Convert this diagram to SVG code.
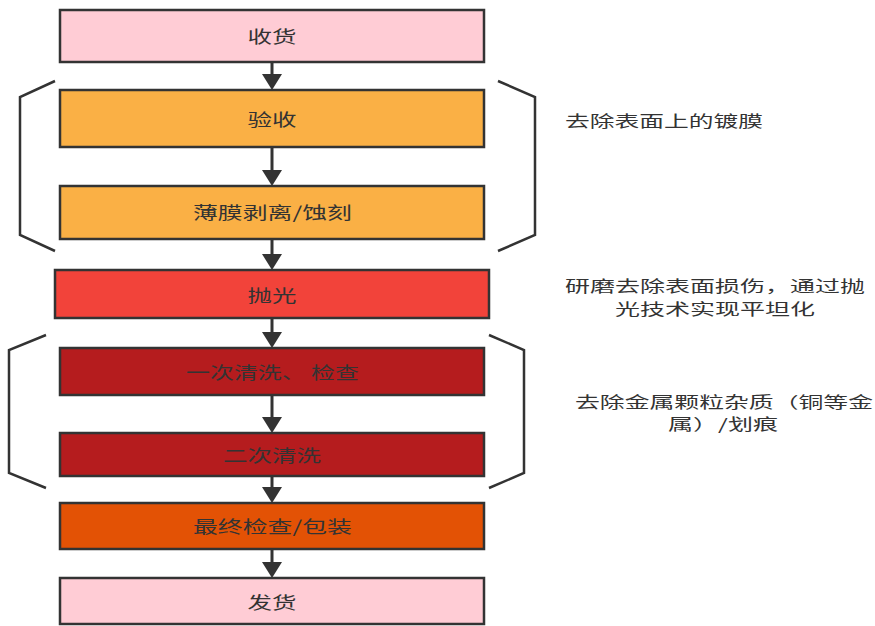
<svg xmlns="http://www.w3.org/2000/svg" width="875" height="626" viewBox="0 0 875 626">
<style>
.box{stroke:#333;stroke-width:2.5}
.t{font-family:"Noto Sans CJK SC","Liberation Sans",sans-serif;font-size:17px;fill:#333}
.n{font-family:"Noto Sans CJK SC","Liberation Sans",sans-serif;font-size:15.5px;fill:#333}
.pink{fill:#FFCCD5}
.orange{fill:#FAB045}
.red{fill:#F2433A}
.dred{fill:#B51C1E}
.ored{fill:#E35205}
.conn{stroke:#333;stroke-width:3;fill:none}
.br{stroke:#333;stroke-width:2.5;fill:none}
</style>
<defs>
<marker id="ah" viewBox="0 0 16 20" refX="8" refY="10" markerWidth="16" markerHeight="20" markerUnits="userSpaceOnUse" orient="auto">
<path d="M0,0 L16,10 L0,20 z" fill="#333"/>
</marker>
</defs>
<rect width="875" height="626" fill="#fff"/>
<g id="connectors">
<path class="conn" d="M272,62 V82" marker-end="url(#ah)"/>
<path class="conn" d="M272,147 V178" marker-end="url(#ah)"/>
<path class="conn" d="M272,239 V262" marker-end="url(#ah)"/>
<path class="conn" d="M272,318 V340" marker-end="url(#ah)"/>
<path class="conn" d="M272,395 V425" marker-end="url(#ah)"/>
<path class="conn" d="M272,476 V495" marker-end="url(#ah)"/>
<path class="conn" d="M272,549 V570" marker-end="url(#ah)"/>
</g>
<g id="brackets">
<path class="br" d="M55,81 L20,97 V235 L55,251"/>
<path class="br" d="M498,81 L535,97 V235 L498,251"/>
<path class="br" d="M46,335 L9,350 V473 L46,488"/>
<path class="br" d="M489,335 L524,350 V473 L489,488"/>
</g>
<g id="n1"><rect class="box pink" x="60" y="10" width="424" height="52"/><text class="t" x="247.5" y="43" textLength="49" lengthAdjust="spacingAndGlyphs">收货</text></g>
<g id="n2"><rect class="box orange" x="60" y="90" width="424" height="57"/><text class="t" x="247.5" y="126" textLength="49" lengthAdjust="spacingAndGlyphs">验收</text></g>
<g id="n3"><rect class="box orange" x="60" y="186" width="424" height="53"/><text class="t" x="193" y="219" textLength="159" lengthAdjust="spacingAndGlyphs">薄膜剥离/蚀刻</text></g>
<g id="n4"><rect class="box red" x="55" y="270" width="434" height="48"/><text class="t" x="247.5" y="302" textLength="49" lengthAdjust="spacingAndGlyphs">抛光</text></g>
<g id="n5"><rect class="box dred" x="60" y="348" width="424" height="47"/><text class="t" x="186" y="379" textLength="173" lengthAdjust="spacingAndGlyphs">一次清洗、 检查</text></g>
<g id="n6"><rect class="box dred" x="60" y="433" width="424" height="43"/><text class="t" x="223" y="462" textLength="98" lengthAdjust="spacingAndGlyphs">二次清洗</text></g>
<g id="n7"><rect class="box ored" x="60" y="503" width="424" height="46"/><text class="t" x="193" y="533" textLength="159" lengthAdjust="spacingAndGlyphs">最终检查/包装</text></g>
<g id="n8"><rect class="box pink" x="60" y="578" width="424" height="46"/><text class="t" x="247.5" y="609" textLength="49" lengthAdjust="spacingAndGlyphs">发货</text></g>
<g id="notes">
<text class="n" x="565" y="127" textLength="198" lengthAdjust="spacingAndGlyphs">去除表面上的镀膜</text>
<text class="n" x="565" y="292" textLength="300" lengthAdjust="spacingAndGlyphs">研磨去除表面损伤，通过抛</text>
<text class="n" x="615" y="314.5" textLength="200" lengthAdjust="spacingAndGlyphs">光技术实现平坦化</text>
<text class="n" x="575" y="407.5" textLength="298" lengthAdjust="spacingAndGlyphs">去除金属颗粒杂质（铜等金</text>
<text class="n" x="668" y="430" textLength="110" lengthAdjust="spacingAndGlyphs">属）/划痕</text>
</g>
</svg>
